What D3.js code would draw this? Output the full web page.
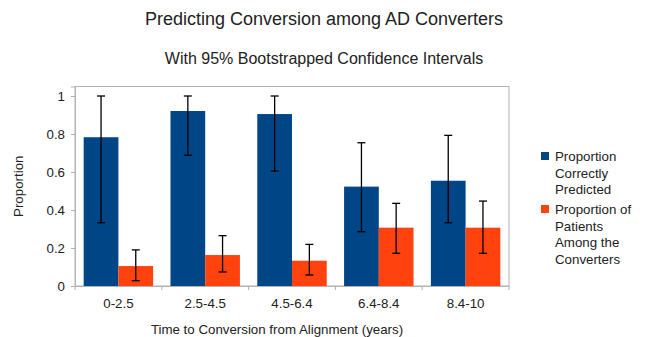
<!DOCTYPE html>
<html><head><meta charset="utf-8">
<script src="https://cdn.jsdelivr.net/npm/d3@7"></script>
<style>html,body{margin:0;padding:0;background:#fff}svg{display:block;font-family:"Liberation Sans",Arial,sans-serif}</style>
</head><body>
<script>
const categories = ["0-2.5","2.5-4.5","4.5-6.4","6.4-8.4","8.4-10"];
const seriesNames = ["Proportion Correctly Predicted","Proportion of Patients Among the Converters"];
const predicted = [0.783, 0.921, 0.905, 0.523, 0.554];
const predictedLow = [0.333, 0.688, 0.605, 0.286, 0.333];
const predictedHigh = [1.0, 1.0, 1.0, 0.754, 0.793];
const patients = [0.105, 0.163, 0.133, 0.307, 0.307];
const patientsLow = [0.028, 0.074, 0.058, 0.172, 0.172];
const patientsHigh = [0.19, 0.265, 0.219, 0.435, 0.447];
const yTicks = [0, 0.2, 0.4, 0.6, 0.8, 1];
const colors = ["#004586", "#ff420e"];

(function(){
const W = 647, H = 337;
const svg = d3.select("body").append("svg").attr("width", W).attr("height", H);
const pL = 75, pR = 509, pT = 86.5, pB = 286;
const fs = 13.3;

const x = d3.scaleBand().domain(categories).range([pL, pR]).paddingInner(0).paddingOuter(0);
const xs = d3.scaleBand().domain([0,1]).range([0, x.bandwidth()]).paddingInner(0).paddingOuter(0.25);
const y = d3.scaleLinear().domain([0, 1.05]).range([pB, pT]);

svg.append("rect").attr("x", pL).attr("y", pT).attr("width", pR-pL).attr("height", pB-pT)
  .attr("fill", "none").attr("stroke", "#b3b3b3").attr("stroke-width", 1);

const yAxis = svg.append("g").attr("transform", `translate(${pL},0)`)
  .call(d3.axisLeft(y).tickValues(yTicks).tickFormat(d3.format("~g")).tickSize(4).tickPadding(6));
yAxis.select(".domain").attr("stroke", "#b3b3b3");
yAxis.selectAll(".tick line").attr("stroke", "#b3b3b3");
yAxis.selectAll("text").attr("font-size", fs).attr("fill", "#222").attr("font-family", "Liberation Sans, Arial, sans-serif");

const xAxis = svg.append("g").attr("transform", `translate(0,${pB})`)
  .call(d3.axisBottom(x).tickSize(0).tickPadding(13));
xAxis.select(".domain").attr("stroke", "#b3b3b3");
xAxis.selectAll("text").attr("font-size", fs).attr("fill", "#222").attr("font-family", "Liberation Sans, Arial, sans-serif");
const bounds = categories.map(c => x(c)).concat([pR]);
svg.append("g").selectAll("line").data(bounds).join("line")
  .attr("x1", d => d).attr("x2", d => d).attr("y1", pB).attr("y2", pB + 4)
  .attr("stroke", "#b3b3b3");

const series = [
  {vals: predicted, lo: predictedLow, hi: predictedHigh},
  {vals: patients, lo: patientsLow, hi: patientsHigh}
];
series.forEach((s, si) => {
  svg.append("g").selectAll("rect").data(categories).join("rect")
    .attr("x", c => x(c) + xs(si)).attr("width", xs.bandwidth())
    .attr("y", (c, i) => y(s.vals[i])).attr("height", (c, i) => pB - y(s.vals[i]))
    .attr("fill", colors[si]);
});
series.forEach((s, si) => {
  const g = svg.append("g").attr("stroke", "#000").attr("stroke-width", 1.3);
  categories.forEach((c, i) => {
    const cx = x(c) + xs(si) + xs.bandwidth()/2;
    g.append("line").attr("x1", cx).attr("x2", cx).attr("y1", y(s.lo[i])).attr("y2", y(s.hi[i]));
    g.append("line").attr("x1", cx-4).attr("x2", cx+4).attr("y1", y(s.lo[i])).attr("y2", y(s.lo[i]));
    g.append("line").attr("x1", cx-4).attr("x2", cx+4).attr("y1", y(s.hi[i])).attr("y2", y(s.hi[i]));
  });
});

svg.append("text").attr("x", 324).attr("y", 25).attr("text-anchor", "middle").attr("font-size", 18).attr("fill", "#222")
  .text("Predicting Conversion among AD Converters");
svg.append("text").attr("x", 324).attr("y", 63.5).attr("text-anchor", "middle").attr("font-size", 16).attr("fill", "#222")
  .text("With 95% Bootstrapped Confidence Intervals");
svg.append("text").attr("x", 277).attr("y", 334).attr("text-anchor", "middle").attr("font-size", fs).attr("fill", "#222")
  .text("Time to Conversion from Alignment (years)");
svg.append("text").attr("transform", `translate(23,${(pT+pB)/2}) rotate(-90)`).attr("text-anchor", "middle")
  .attr("font-size", fs).attr("fill", "#222").text("Proportion");

const legendLines = [["Proportion","Correctly","Predicted"],["Proportion of","Patients","Among the","Converters"]];
const legendY = [152, 205];
legendLines.forEach((lines, i) => {
  svg.append("rect").attr("x", 541).attr("y", legendY[i]).attr("width", 8).attr("height", 8).attr("fill", colors[i]);
  const t = svg.append("text").attr("x", 555).attr("y", legendY[i] + 9).attr("font-size", fs).attr("fill", "#222");
  lines.forEach((l, j) => t.append("tspan").attr("x", 555).attr("dy", j === 0 ? 0 : 16.7).text(l));
});
})();
</script>
</body></html>
